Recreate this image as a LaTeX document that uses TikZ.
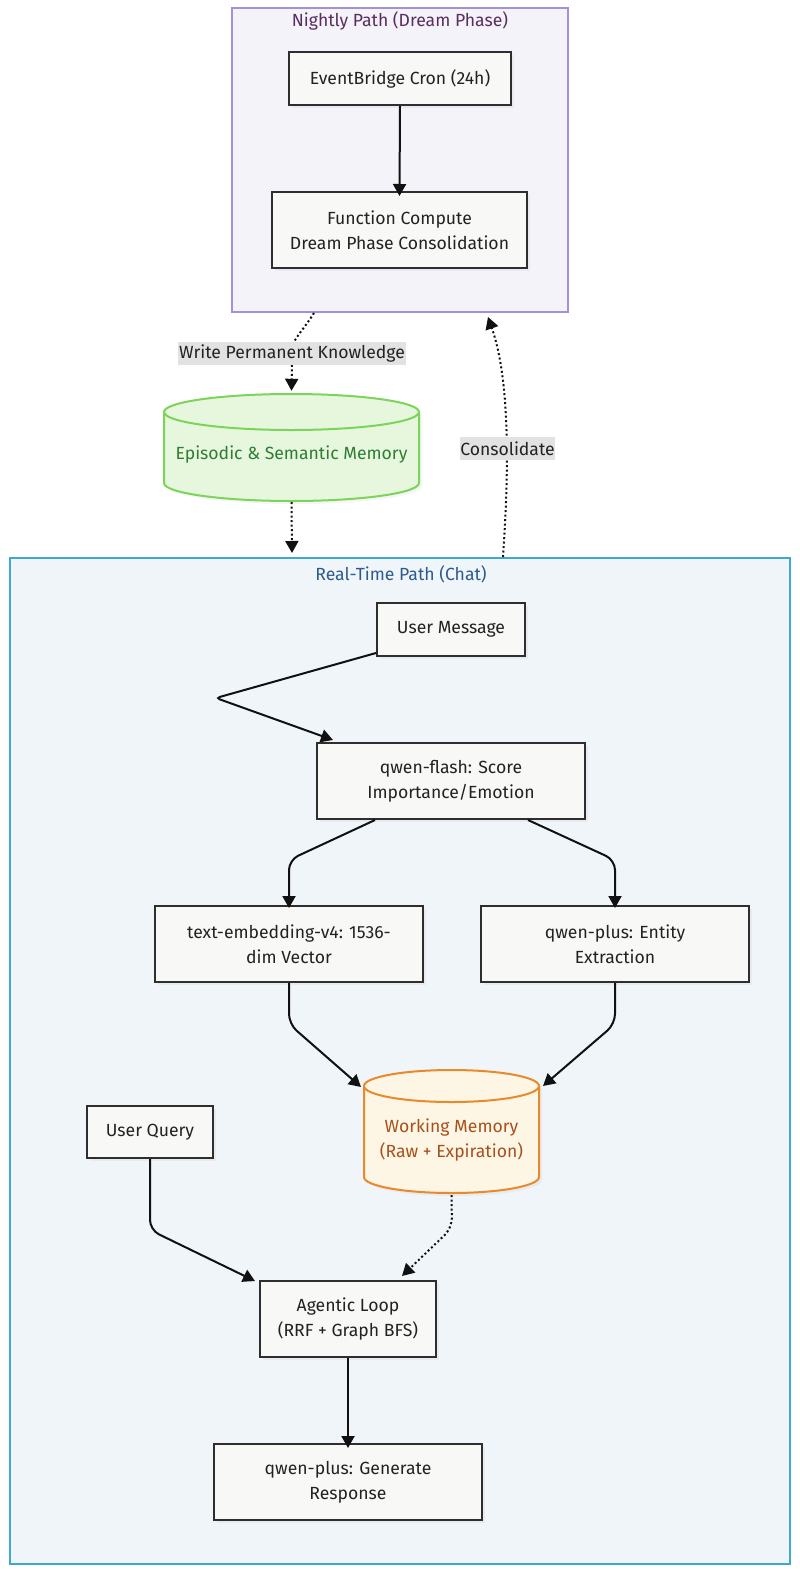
\documentclass[tikz,border=0pt]{standalone}
\usepackage{fontspec}
\setmainfont{Fira Sans}
\usetikzlibrary{arrows.meta,calc,shadows}
\definecolor{nodefill}{HTML}{F8F8F6}
\definecolor{nodeline}{HTML}{2E2E2E}
\definecolor{nodetext}{HTML}{222222}
\definecolor{nightfill}{HTML}{F4F3F9}
\definecolor{nightline}{HTML}{A38FDB}
\definecolor{nighttext}{HTML}{5A2D5E}
\definecolor{rtfill}{HTML}{F0F5FA}
\definecolor{rtline}{HTML}{3CA9D0}
\definecolor{rttext}{HTML}{2B5C8C}
\definecolor{greenfill}{HTML}{E6F7DE}
\definecolor{greenline}{HTML}{7DD45A}
\definecolor{greentext}{HTML}{2E7D32}
\definecolor{orangefill}{HTML}{FDF6E4}
\definecolor{orangeline}{HTML}{E8892B}
\definecolor{orangetext}{HTML}{A8501C}
\definecolor{lblfill}{HTML}{E2E2E2}
\definecolor{edgecol}{HTML}{111111}
\tikzset{
  boxnode/.style={draw=nodeline, fill=nodefill, line width=2pt, inner sep=0pt, align=center,
    font=\fontsize{17.6}{25}\selectfont, text=nodetext,
    drop shadow={opacity=0.08, shadow xshift=3pt, shadow yshift=-3pt}},
  clusterbox/.style={line width=2pt, inner sep=0pt},
  ctitle/.style={font=\fontsize{17.6}{20}\selectfont, inner sep=0pt},
  conn/.style={line width=2pt, draw=edgecol, rounded corners=10pt, -{Triangle[length=12pt,width=13pt]}},
  dotconn/.style={conn, dash pattern=on 2pt off 2.5pt},
  elabel/.style={fill=lblfill, inner sep=0pt, minimum height=23, font=\fontsize{17.6}{20}\selectfont, text=nodetext},
  cyltext/.style={font=\fontsize{17.6}{25}\selectfont, align=center, inner sep=0pt},
  cylanchor/.style={inner sep=0pt}
}
\begin{document}
\begin{tikzpicture}[x=1pt,y=1pt]
\useasboundingbox[fill=white] (0,0) rectangle (800,-1574);

% clusters
\node[clusterbox, draw=nightline, fill=nightfill, minimum width=336, minimum height=304] (night) at (400,-160) {};
\node[ctitle, text=nighttext] (nightT) at (400,-21) {Nightly Path (Dream Phase)};
\node[clusterbox, draw=rtline, fill=rtfill, minimum width=780, minimum height=1006] (rt) at (400,-1061) {};
\node[ctitle, text=rttext] (rtT) at (401,-574) {Real-Time Path (Chat)};

% nightly nodes
\node[boxnode, minimum width=222, minimum height=53] (evt) at (400,-78.5) {EventBridge Cron (24h)};
\node[boxnode, minimum width=255, minimum height=76] (fc) at (399.5,-230) {Function Compute\\Dream Phase Consolidation};

% green cylinder
\draw[greenline, fill=greenfill, line width=2pt, drop shadow={opacity=0.08, shadow xshift=3pt, shadow yshift=-3pt}]
  (164,-412) -- (164,-483) arc[start angle=180,end angle=360,x radius=127.5,y radius=18]
  -- (419,-412) arc[start angle=0,end angle=180,x radius=127.5,y radius=18] -- cycle;
\draw[greenline, line width=2pt] (164,-412) arc[start angle=180,end angle=360,x radius=127.5,y radius=18];
\node[cylanchor, minimum width=255, minimum height=107] (epi) at (291.5,-447.5) {};
\node[cyltext, text=greentext] (epiT) at (291.5,-455) {Episodic \& Semantic Memory};

% real-time nodes
\node[boxnode, minimum width=148, minimum height=53] (umsg) at (451,-629.5) {User Message};
\node[boxnode, minimum width=268, minimum height=76] (qflash) at (451,-781) {qwen-flash: Score\\Importance/Emotion};
\node[boxnode, minimum width=268, minimum height=76] (temb) at (289,-944) {text-embedding-v4: 1536-\\dim Vector};
\node[boxnode, minimum width=268, minimum height=76] (qplus) at (615,-944) {qwen-plus: Entity\\Extraction};
\node[boxnode, minimum width=126, minimum height=52] (uquery) at (150,-1132) {User Query};
\node[boxnode, minimum width=176, minimum height=76] (agent) at (348,-1319) {Agentic Loop\\(RRF + Graph BFS)};
\node[boxnode, minimum width=268, minimum height=76] (qgen) at (348,-1482) {qwen-plus: Generate\\Response};

% orange cylinder
\draw[orangeline, fill=orangefill, line width=2pt, drop shadow={opacity=0.08, shadow xshift=3pt, shadow yshift=-3pt}]
  (364,-1086) -- (364,-1177) arc[start angle=180,end angle=360,x radius=87.5,y radius=16]
  -- (539,-1086) arc[start angle=0,end angle=180,x radius=87.5,y radius=16] -- cycle;
\draw[orangeline, line width=2pt] (364,-1086) arc[start angle=180,end angle=360,x radius=87.5,y radius=16];
\node[cylanchor, minimum width=175, minimum height=123] (wm) at (451.5,-1131.5) {};
\node[cyltext, text=orangetext] (wmT) at (451.5,-1140) {Working Memory\\(Raw + Expiration)};

% connectors: nightly
\draw[conn] (evt.south) -- ([yshift=-5pt]fc.north);
\draw[dotconn] ([xshift=-86pt]night.south) .. controls (302,-332) and (292,-340) .. (292,-360) -- ([yshift=3pt]epi.north);
\node[elabel, minimum width=228] (lblW) at (292,-353.5) {Write Permanent Knowledge};
\draw[dotconn] ([yshift=-1pt]epi.south) -- ([xshift=-108pt,yshift=4pt]rt.north);
\draw[dotconn] ([xshift=103pt]rt.north) .. controls (509,-470) and (510,-380) .. ([xshift=88pt,yshift=-4pt]night.south);
\node[elabel, minimum width=95] (lblC) at (507.5,-448.5) {Consolidate};

% connectors: real-time
\draw[conn, rounded corners=4pt] ([yshift=4pt]umsg.south west) -- (216,-698) -- ([xshift=17pt,yshift=2pt]qflash.north west);
\draw[conn] ([xshift=-76pt]qflash.south) -- (289,-860) -- ([yshift=-3pt]temb.north);
\draw[conn] ([xshift=77pt]qflash.south) -- (615,-860) -- ([yshift=-3pt]qplus.north);
\draw[conn] (temb.south) -- (289,-1024) -- (361,-1087);
\draw[conn] (qplus.south) -- (615,-1024) -- (543,-1086);
\draw[conn] (uquery.south) -- (150,-1230) -- ([xshift=-4pt,yshift=-1pt]agent.north west);
\draw[dotconn] ([yshift=-2pt]wm.south) -- (452,-1228) -- ([xshift=54pt,yshift=4pt]agent.north);
\draw[conn] (agent.south) -- ([yshift=-5pt]qgen.north);
\end{tikzpicture}
\end{document}
